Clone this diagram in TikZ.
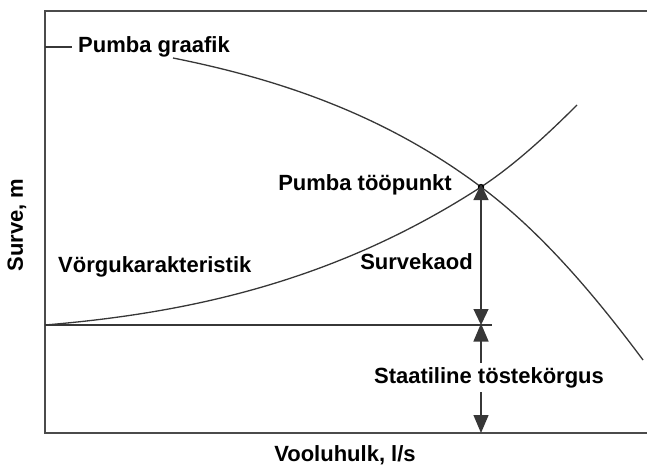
\documentclass[tikz,border=0pt]{standalone}
\usepackage{fontspec}
\setmainfont{Liberation Sans}
\usepackage{tikz}
\usetikzlibrary{arrows.meta, positioning}
\definecolor{axisgray}{RGB}{75,75,75}
\definecolor{curvegray}{RGB}{55,55,55}
\tikzset{
  axis/.style={line width=1.6pt, color=axisgray},
  curve/.style={line width=1.3pt, color=curvegray},
  label/.style={font=\fontsize{22}{24}\selectfont\bfseries, inner sep=0pt},
  dimarrow/.style={line width=1.3pt, color=curvegray, -{Triangle[width=15pt, length=18pt]}},
  dimboth/.style={line width=1.3pt, color=curvegray, {Triangle[width=15pt, length=16pt]}-{Triangle[width=15pt, length=16pt]}}
}

\begin{document}
\begin{tikzpicture}[x=1pt, y=-1pt]
  \useasboundingbox (0,0) rectangle (647,465);
  % Axes
  \draw[axis] (647,11) -- (45,11) -- (45,433) -- (647,433);
  \draw[curve] (45,47) -- (72,47); % tick for pump curve
  \draw[curve] (45,325) -- (492,325); % static head level

  % Operating point
  \coordinate (op) at (481,187);
  \coordinate (base) at (481,325);
  \coordinate (floor) at (481,433);
  \coordinate (tailup) at (481,363);
  \coordinate (taildown) at (481,392);

  % Pump curve
  \draw[curve] (173,58) .. controls (273,78) and (381,112) .. (op)
               .. controls (536,228) and (588,286) .. (643,360);
  % System curve
  \draw[curve] (45,325) .. controls (190,313) and (336,281) .. (op)
               .. controls (513,166) and (545,137) .. (577,105);
  \fill[black] (op) circle (3.2pt);

  % Labels
  \node[label, anchor=west] (pumpcurve) at (78,47) {Pumba graafik};
  \node[label, anchor=east] (oppoint) at (452,185) {Pumba tööpunkt};
  \node[label, anchor=west] (syscurve) at (58,267) {Vörgukarakteristik};
  \node[label, anchor=east] (loss) at (473,262) {Survekaod};
  \node[label] (static) at (489,378) {Staatiline töstekörgus};
  \node[label] (xlabel) at (345,455) {Vooluhulk, l/s};
  \node[label, rotate=90] (ylabel) at (17,225) {Surve, m};

  % Dimension arrows
  \draw[dimboth] ([yshift=3pt]op) -- (base);
  \draw[dimarrow] (tailup) -- ([yshift=1.5pt]base);
  \draw[dimarrow] (taildown) -- (floor);
\end{tikzpicture}
\end{document}
